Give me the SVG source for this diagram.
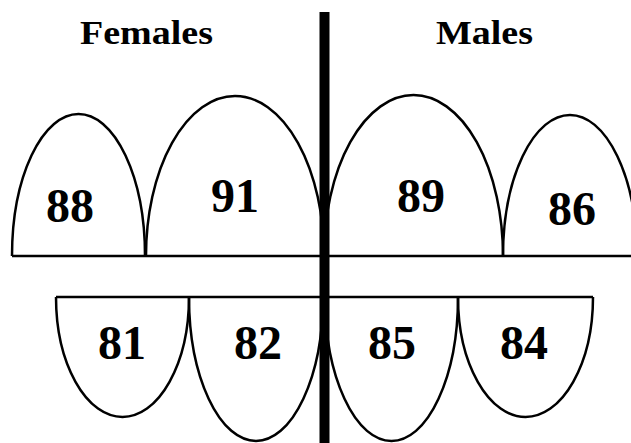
<svg xmlns="http://www.w3.org/2000/svg" width="631" height="443" viewBox="0 0 631 443">
  <style>
    .arch { fill: none; stroke: #000; stroke-width: 2.5; }
    .base { stroke: #000; stroke-width: 2.5; fill: none; }
    .num { font-family: "Liberation Serif", "Times New Roman", serif; font-weight: bold; font-size: 48px; text-anchor: middle; fill: #000; }
    .title { font-family: "Liberation Serif", "Times New Roman", serif; font-weight: bold; font-size: 33px; text-anchor: middle; fill: #000; }
  </style>
  <rect width="631" height="443" fill="#fff"/>
  <g id="titles">
    <text class="title" x="146.5" y="44" textLength="133" lengthAdjust="spacingAndGlyphs">Females</text>
    <text class="title" x="484.5" y="44" textLength="97" lengthAdjust="spacingAndGlyphs">Males</text>
  </g>
  <g id="connectors">
    <path class="base" d="M12,256 H631"/>
    <path class="base" d="M56,297 H593"/>
  </g>
  <g id="node-88">
    <path class="arch" d="M12,256 A66.5,142 0 0 1 145,256"/>
    <text class="num" x="70" y="222">88</text>
  </g>
  <g id="node-91">
    <path class="arch" d="M146,256 A89,160 0 0 1 324,256"/>
    <text class="num" x="235" y="212">91</text>
  </g>
  <g id="node-89">
    <path class="arch" d="M324,256 A89.5,161 0 0 1 503,256"/>
    <text class="num" x="421" y="212">89</text>
  </g>
  <g id="node-86">
    <path class="arch" d="M503,256 A67,141 0 0 1 637,256"/>
    <text class="num" x="572" y="225">86</text>
  </g>
  <g id="node-81">
    <path class="arch" d="M56,297 A66.5,120 0 0 0 189,297"/>
    <text class="num" x="122" y="359">81</text>
  </g>
  <g id="node-82">
    <path class="arch" d="M189,297 A67,144 0 0 0 323,297"/>
    <text class="num" x="258" y="359">82</text>
  </g>
  <g id="node-85">
    <path class="arch" d="M325,297 A66.5,144 0 0 0 458,297"/>
    <text class="num" x="392" y="359">85</text>
  </g>
  <g id="node-84">
    <path class="arch" d="M458,297 A67.5,120 0 0 0 593,297"/>
    <text class="num" x="524" y="359">84</text>
  </g>
  <g id="divider">
    <rect x="319.5" y="12" width="10" height="431" fill="#000"/>
  </g>
</svg>
